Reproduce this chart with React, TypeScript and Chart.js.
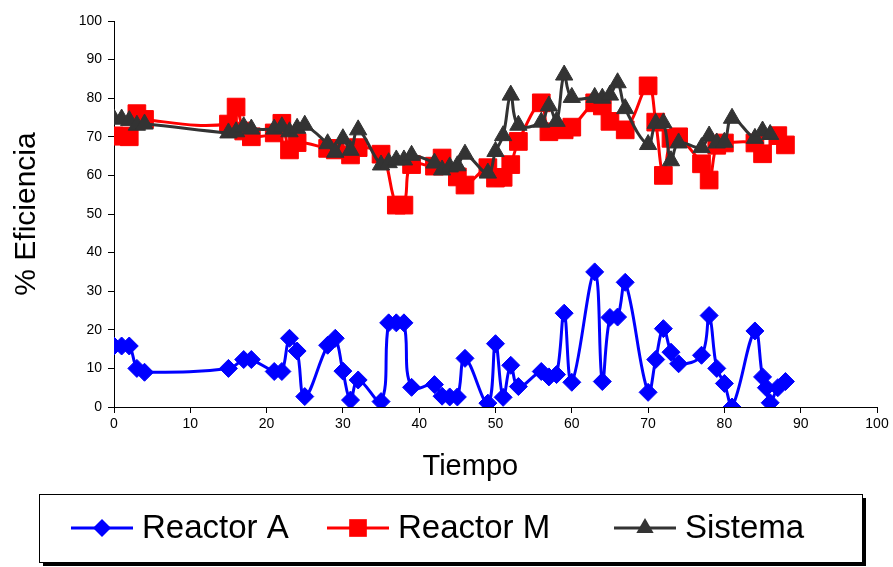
import React, { useEffect, useRef } from 'react';
import { Chart, registerables } from 'chart.js';

Chart.register(...registerables);

// ---- data ----
const timeA = [0, 1, 2, 3, 4, 15, 17, 18, 21, 22, 23, 24, 25, 28, 29, 30, 31, 32, 35, 36, 37, 38, 39, 42, 43, 44, 45, 46, 49, 50, 51, 52, 53, 56, 57, 58, 59, 60, 63, 64, 65, 66, 67, 70, 71, 72, 73, 74, 77, 78, 79, 80, 81, 84, 85, 85.5, 86, 87, 88];
const reactorA = [15.8, 15.8, 15.8, 10, 9, 10, 12.3, 12.3, 9.2, 9.2, 17.8, 14.5, 2.7, 16, 17.8, 9.3, 1.8, 7, 1.4, 21.8, 21.8, 21.8, 5.1, 5.8, 2.8, 2.6, 2.6, 12.6, 1, 16.4, 2.5, 10.8, 5.3, 9.2, 7.8, 8.4, 24.3, 6.4, 35, 6.6, 23.2, 23.3, 32.3, 3.8, 12.3, 20.3, 14.2, 11.2, 13.4, 23.7, 10, 6.1, 0, 19.7, 7.8, 5, 1.1, 5, 6.6];

const timeM = [0, 1, 2, 3, 4, 15, 16, 17, 18, 21, 22, 23, 24, 28, 29, 31, 32, 35, 37, 38, 39, 42, 43, 45, 46, 49, 50, 51, 52, 53, 56, 57, 59, 60, 63, 64, 65, 67, 70, 71, 72, 73, 74, 77, 78, 79, 80, 84, 85, 87, 88];
const reactorM = [70.2, 70.2, 70, 76, 74.5, 73.3, 77.7, 71.5, 70, 71, 73.5, 66.6, 68.5, 67, 66.6, 65.3, 67.2, 65.5, 52.3, 52.3, 62.8, 62.4, 64.5, 59.6, 57.5, 62, 59.3, 59.5, 62.8, 68.8, 78.8, 71.3, 71.8, 72.5, 78.8, 78, 74, 71.8, 83.2, 73.8, 60, 69.6, 70, 63, 58.8, 67.8, 68.4, 68.4, 65.6, 70.3, 67.9];

const timeS = [0, 1, 2, 3, 4, 15, 16, 17, 18, 21, 22, 23, 24, 25, 28, 29, 30, 31, 32, 35, 36, 37, 38, 39, 42, 43, 44, 45, 46, 49, 50, 51, 52, 53, 56, 57, 58, 59, 60, 63, 64, 65, 66, 67, 70, 71, 72, 73, 74, 77, 78, 79, 80, 81, 84, 85, 86];
const sistema = [74.6, 74.6, 74.2, 73, 73.3, 71, 71.3, 72.6, 72, 72, 72.6, 71.3, 72.2, 73, 68.2, 66, 69.5, 66.5, 71.8, 62.7, 63.3, 64, 64, 65.2, 63.2, 61.4, 62.2, 62.5, 65.5, 60.6, 66.2, 70.3, 80.8, 73, 73.8, 78, 74, 86, 80.2, 80.2, 80, 80.8, 84, 77.3, 68, 73.5, 73.6, 63.8, 68.4, 67.2, 70.2, 68.4, 68.6, 74.8, 69.6, 71.5, 70.6];

const seriesNames = ['Reactor A', 'Reactor M', 'Sistema'];
const xTitle = 'Tiempo';
const yTitle = '% Eficiencia';

const COLORS = ['#0000FF', '#FF0000', '#333333'];
const FONT = "'Liberation Sans', Arial, sans-serif";

const toPoints = (xs: number[], ys: number[]) => xs.map((x, i) => ({ x, y: ys[i] }));

function drawMarker(ctx: CanvasRenderingContext2D, style: string, x: number, y: number, r: number, color: string) {
  ctx.save();
  ctx.fillStyle = color;
  ctx.beginPath();
  if (style === 'rectRot') {
    ctx.moveTo(x, y - r);
    ctx.lineTo(x + r, y);
    ctx.lineTo(x, y + r);
    ctx.lineTo(x - r, y);
  } else if (style === 'rect') {
    const s = r * Math.SQRT1_2;
    ctx.rect(x - s, y - s, 2 * s, 2 * s);
  } else {
    ctx.moveTo(x, y - r);
    ctx.lineTo(x + r * 0.866, y + r * 0.5);
    ctx.lineTo(x - r * 0.866, y + r * 0.5);
  }
  ctx.closePath();
  ctx.fill();
  ctx.restore();
}

const MARKERS = ['rectRot', 'rect', 'triangle'];
const RADII = [9, 12.5, 10];

const customPlugin = {
  id: 'customDecor',
  afterDraw(chart: any) {
    const ctx: CanvasRenderingContext2D = chart.ctx;
    const area = chart.chartArea;
    ctx.save();
    // x axis title
    ctx.fillStyle = '#000';
    ctx.font = `29px ${FONT}`;
    ctx.textAlign = 'center';
    ctx.textBaseline = 'middle';
    ctx.fillText(xTitle, area.left + (area.right - area.left) * 0.467, 467);

    // legend box
    const bx = 39, by = 494, bw = 823, bh = 68;
    ctx.fillStyle = '#000';
    ctx.fillRect(bx + bw, by + 4, 4, bh);
    ctx.fillRect(bx + 4, by + bh, bw, 4);
    ctx.fillStyle = '#fff';
    ctx.fillRect(bx, by, bw, bh);
    ctx.strokeStyle = '#000';
    ctx.lineWidth = 1;
    ctx.strokeRect(bx + 0.5, by + 0.5, bw, bh);

    const cy = by + bh / 2;
    const lineStarts = [71, 327, 614];
    ctx.font = `33px ${FONT}`;
    ctx.textAlign = 'left';
    ctx.textBaseline = 'middle';
    seriesNames.forEach((name, i) => {
      const x0 = lineStarts[i];
      ctx.strokeStyle = COLORS[i];
      ctx.lineWidth = 3;
      ctx.beginPath();
      ctx.moveTo(x0, cy);
      ctx.lineTo(x0 + 62, cy);
      ctx.stroke();
      drawMarker(ctx, MARKERS[i], x0 + 31, cy, RADII[i] - (i === 2 ? 0 : 0), COLORS[i]);
      ctx.fillStyle = '#000';
      ctx.fillText(name, x0 + 71, cy + 1);
    });
    ctx.restore();
  },
};

export default function App() {
  const ref = useRef<HTMLCanvasElement | null>(null);

  useEffect(() => {
    if (!ref.current) return;
    const seriesData = [
      toPoints(timeA, reactorA),
      toPoints(timeM, reactorM),
      toPoints(timeS, sistema),
    ];
    const orders = [3, 2, 1];
    const chart = new Chart(ref.current, {
      type: 'line',
      data: {
        datasets: seriesNames.map((name, i) => ({
          label: name,
          data: seriesData[i],
          borderColor: COLORS[i],
          backgroundColor: COLORS[i],
          borderWidth: 3,
          pointStyle: MARKERS[i] as any,
          pointRadius: RADII[i],
          pointBorderWidth: 1,
          pointBorderColor: COLORS[i],
          pointBackgroundColor: COLORS[i],
          tension: 0.4,
          fill: false,
          order: orders[i],
        })),
      },
      options: {
        responsive: false,
        animation: false,
        events: [],
        layout: { padding: { top: 21, right: 16, bottom: 82, left: 0 } },
        plugins: {
          legend: { display: false },
          tooltip: { enabled: false },
        },
        scales: {
          x: {
            type: 'linear',
            min: 0,
            max: 100,
            ticks: { stepSize: 10, color: '#000', font: { family: FONT, size: 14 }, padding: 3, maxRotation: 0 },
            grid: { display: true, drawOnChartArea: false, drawTicks: true, tickLength: 6, color: '#000' },
            border: { display: true, color: '#000', width: 1 },
            title: { display: false },
            afterFit: (scale: any) => { scale.height = 78; },
          },
          y: {
            type: 'linear',
            min: 0,
            max: 100,
            ticks: { stepSize: 10, color: '#000', font: { family: FONT, size: 14 }, padding: 6 },
            grid: { display: true, drawOnChartArea: false, drawTicks: true, tickLength: 6, color: '#000' },
            border: { display: true, color: '#000', width: 1 },
            title: {
              display: true,
              text: yTitle,
              color: '#000',
              font: { family: FONT, size: 30 },
              padding: { top: 9, bottom: 0 },
            },
            afterFit: (scale: any) => { scale.width = 114; },
          },
        },
      },
      plugins: [customPlugin],
    } as any);
    return () => chart.destroy();
  }, []);

  return (
    <div style={{ position: 'fixed', left: 0, top: 0, width: 893, height: 567, background: '#fff' }}>
      <canvas ref={ref} width={893} height={567} style={{ display: 'block' }} />
    </div>
  );
}
